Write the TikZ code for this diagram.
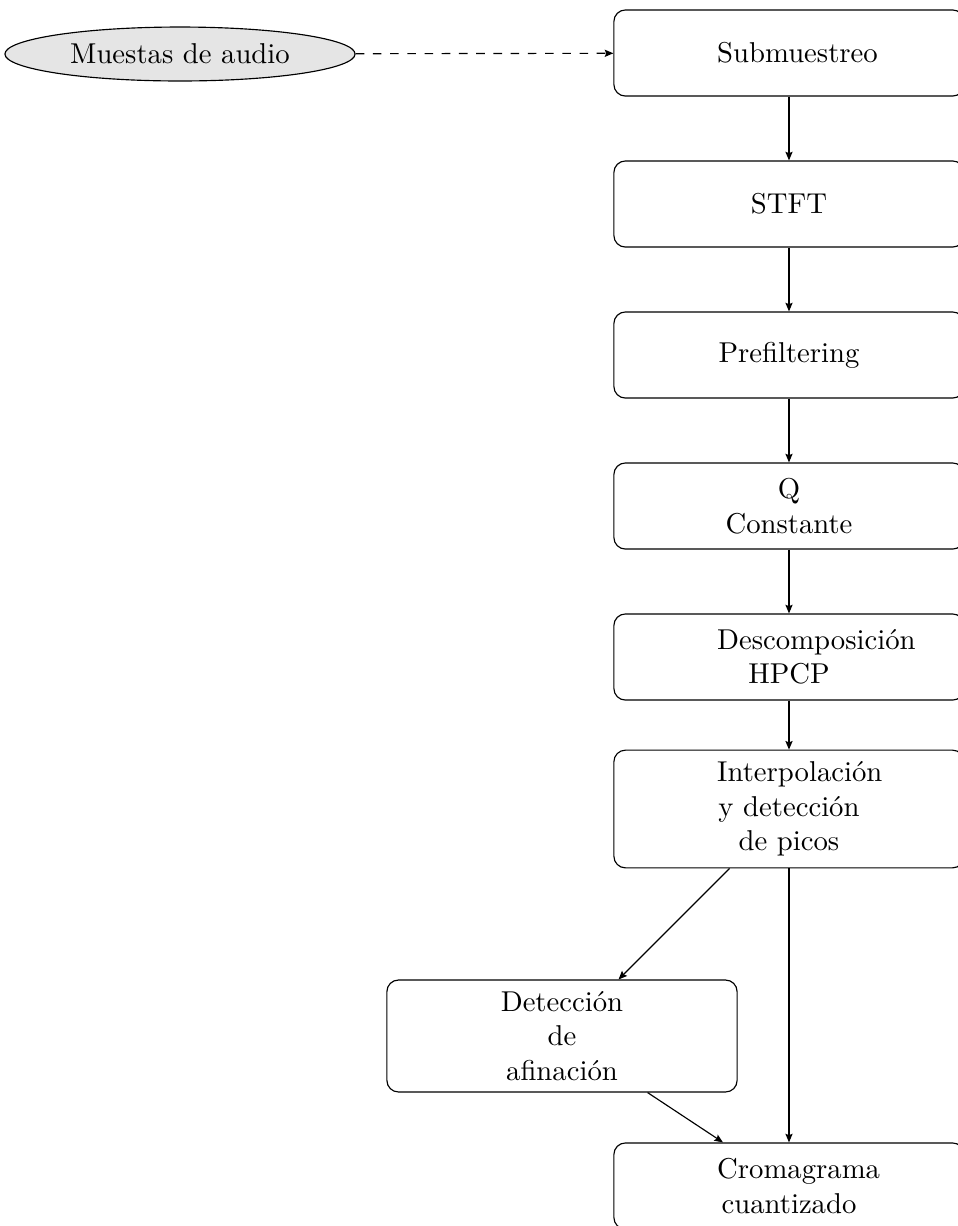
\documentclass[tikz,border=0pt]{standalone}
\usepackage{fontspec}
\usetikzlibrary{shapes.geometric,arrows.meta}
\begin{document}
\begin{tikzpicture}[x=0.3484pt,y=-0.3484pt,
  blockbox/.style={draw, rounded corners=4pt, minimum width=122pt, minimum height=30pt,
    text width=50pt, align=center, inner sep=0pt},
  srcnode/.style={draw, ellipse, fill=gray!20, minimum width=122pt, minimum height=18.8pt, inner sep=0pt},
  flow/.style={-{Stealth[length=3pt,width=2.5pt,inset=0.5pt]}, line width=0.4pt},
  dflow/.style={flow, dashed}]
\useasboundingbox (0,0) rectangle (957,1226);
\node[srcnode] (src) at (180,54) {Muestas de audio};
\node[blockbox] (sub) at (789,53) {Submuestreo};
\node[blockbox] (stft) at (789,204) {STFT};
\node[blockbox] (pre) at (789,355) {Prefiltering};
\node[blockbox] (cq) at (789,506) {Q\\Constante};
\node[blockbox] (desc) at (789,657) {Descomposición\\HPCP};
\node[blockbox, minimum height=41pt] (interp) at (789,809) {Interpolación\\y detección\\de picos};
\node[blockbox, minimum height=39pt] (tune) at (562,1036) {Detección\\de\\afinación};
\node[blockbox] (crom) at (789,1186) {Cromagrama\\cuantizado};
\draw[dflow] (src) -- (sub);
\draw[flow] (sub) -- (stft);
\draw[flow] (stft) -- (pre);
\draw[flow] (pre) -- (cq);
\draw[flow] (cq) -- (desc);
\draw[flow] (desc) -- (interp);
\draw[flow] (interp) -- (tune);
\draw[flow] (interp) -- (crom);
\draw[flow] (tune) -- (crom);
\end{tikzpicture}
\end{document}
